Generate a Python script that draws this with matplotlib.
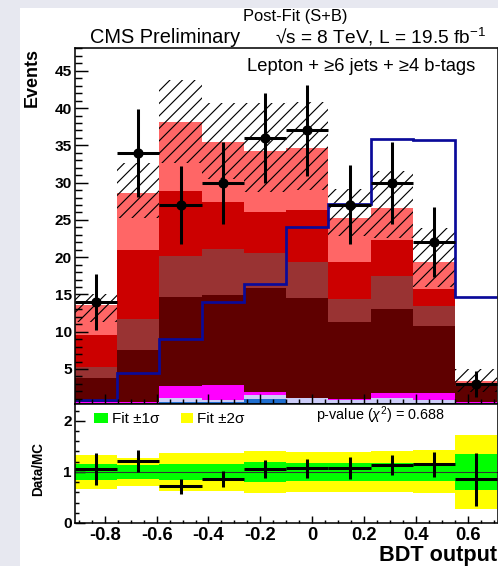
import numpy as np
import matplotlib
matplotlib.use('Agg')
import matplotlib.pyplot as plt
from matplotlib.patches import Rectangle
from matplotlib.ticker import MultipleLocator

plt.rcParams['font.family'] = ['Liberation Sans', 'DejaVu Sans']
plt.rcParams['mathtext.fontset'] = 'custom'
plt.rcParams['mathtext.rm'] = 'Liberation Sans'
plt.rcParams['mathtext.it'] = 'Liberation Sans:italic'
plt.rcParams['axes.unicode_minus'] = False
plt.rcParams['hatch.linewidth'] = 0.55

# BDT output binning
x_lo, x_hi, n_bins = -0.915, 0.715, 10

# stacked backgrounds (bottom -> top), events per bin
ttv        = [0.2, 0.2, 0.6, 0.6, 0.95, 0.4, 0.4, 0.4, 0.4, 0.2]
ewk        = [0.3, 0.3, 0.45, 0.3, 0.55, 0.65, 0.45, 0.65, 0.5, 0.2]
single_top = [0.1, 0.1, 1.7, 1.95, 0.35, 0.1, 0.1, 0.75, 0.9, 0.2]
tt_bb      = [3.2, 6.9, 11.95, 12.05, 13.95, 13.35, 10.35, 11.3, 8.9, 2.1]
tt_b       = [1.4, 4.2, 5.5, 6.2, 4.7, 4.8, 3.1, 4.4, 2.7, 0.2]
tt_cc      = [4.3, 9.3, 8.7, 6.3, 5.6, 7.0, 4.9, 4.8, 2.3, 0.2]
tt_lf      = [4.1, 7.6, 9.2, 8.1, 8.1, 8.4, 6.0, 4.3, 3.7, 0.3]
stack = [ttv, ewk, single_top, tt_bb, tt_b, tt_cc, tt_lf]
stack_colors = ['#1f6ecf', '#ccccf8', '#ff00ff', '#5f0000', '#993333', '#cc0000', '#ff6666']

# total uncertainty band
unc_lo = [11.3, 25.3, 32.6, 30.5, 28.8, 29.0, 22.8, 22.6, 16.0, 1.9]
unc_hi = [15.0, 32.6, 43.7, 40.7, 40.7, 40.8, 29.2, 31.5, 23.9, 5.0]

# signal (scaled)
signal = [0.8, 4.5, 9.0, 14.0, 16.4, 24.1, 27.1, 35.8, 35.7, 14.7]

# data
data = [14, 34, 27, 30, 36, 37, 27, 30, 22, 3]
data_err = [3.8, 5.9, 5.2, 5.5, 6.0, 6.1, 5.3, 5.5, 4.7, 1.7]

# ratio panel
ratio = [1.06, 1.21, 0.72, 0.86, 1.06, 1.07, 1.08, 1.14, 1.15, 0.86]
ratio_err = [0.31, 0.22, 0.15, 0.16, 0.18, 0.18, 0.21, 0.20, 0.24, 0.52]
band1 = [0.15, 0.14, 0.15, 0.16, 0.20, 0.18, 0.17, 0.18, 0.18, 0.35]
band2 = [0.33, 0.28, 0.37, 0.38, 0.41, 0.39, 0.39, 0.40, 0.42, 0.72]

edges = np.linspace(x_lo, x_hi, n_bins + 1)
w = edges[1] - edges[0]
centers = edges[:-1] + w / 2

W, H = 498, 566
fig = plt.figure(figsize=(W / 150, H / 150), dpi=150)
fig.patch.set_facecolor('#e7e8f0')
fig.add_artist(Rectangle((20 / W, 0), 1, 1 - 8 / H, transform=fig.transFigure,
                         facecolor='white', edgecolor='none', zorder=-5))

ax = fig.add_axes([75 / W, 1 - 404 / H, 422.5 / W, (404 - 47.7) / H])
ax2 = fig.add_axes([75 / W, 1 - 523 / H, 422.5 / W, (523 - 404) / H])

# main panel
bottom = np.zeros(n_bins)
for vals, col in zip(stack, stack_colors):
    ax.bar(edges[:-1], vals, width=w, bottom=bottom, align='edge', color=col, linewidth=0)
    bottom += np.array(vals)

lo = np.array(unc_lo)
hi = np.array(unc_hi)
ax.bar(edges[:-1], hi - lo, width=w, bottom=lo, align='edge', fill=False,
       hatch='////', edgecolor='black', linewidth=0)
ax.stairs(signal, edges, color='#0a0a9a', linewidth=1.3, baseline=None)
ax.errorbar(centers, data, xerr=w / 2, yerr=data_err, fmt='o', color='black',
            ms=3.9, elinewidth=1.45, capsize=0)

ax.set_xlim(x_lo, x_hi)
ax.set_ylim(0.3, 48.1)
ax.set_yticks([5, 10, 15, 20, 25, 30, 35, 40, 45],
              labels=['5', '10', '15', '20', '25', '30', '35', '40', '45'],
              fontweight='bold', fontsize=7.4)
ax.yaxis.set_minor_locator(MultipleLocator(1))
ax.xaxis.set_major_locator(MultipleLocator(0.2))
ax.xaxis.set_minor_locator(MultipleLocator(0.05))
ax.tick_params(axis='x', labelbottom=False)
ax.tick_params(axis='both', which='both', direction='in', width=0.7)
ax.tick_params(axis='y', which='major', length=6.2, pad=1.5)
ax.tick_params(axis='y', which='minor', length=3.4)
ax.tick_params(axis='x', which='major', length=5)
ax.tick_params(axis='x', which='minor', length=2.4)
for s in ax.spines.values():
    s.set_linewidth(0.75)

# ratio panel
ax2.bar(edges[:-1], 2 * np.array(band2), width=w, bottom=1 - np.array(band2),
        align='edge', color='#ffff00', linewidth=0)
ax2.bar(edges[:-1], 2 * np.array(band1), width=w, bottom=1 - np.array(band1),
        align='edge', color='#00ff00', linewidth=0)
ax2.axhline(1, color='#333333', linewidth=0.5)
ax2.errorbar(centers, ratio, xerr=w / 2, yerr=ratio_err, fmt='none', ecolor='black',
             elinewidth=1.45, capsize=0)
ax2.set_xlim(x_lo, x_hi)
ax2.set_ylim(0, 2.33)
ax2.set_yticks([0, 1, 2], labels=['0', '1', '2'], fontweight='bold', fontsize=7.4)
ax2.yaxis.set_minor_locator(MultipleLocator(0.2))
xt = [-0.8, -0.6, -0.4, -0.2, 0.0, 0.2, 0.4, 0.6]
ax2.set_xticks(xt, labels=['-0.8', '-0.6', '-0.4', '-0.2', '0', '0.2', '0.4', '0.6'],
               fontweight='bold', fontsize=8.8)
ax2.xaxis.set_minor_locator(MultipleLocator(0.05))
ax2.tick_params(axis='both', which='both', direction='in', width=0.7)
ax2.tick_params(axis='y', which='major', length=4.8, pad=1.5)
ax2.tick_params(axis='y', which='minor', length=2)
ax2.tick_params(axis='x', which='major', length=3.4, pad=2)
ax2.tick_params(axis='x', which='minor', length=1.6)
for s in ax2.spines.values():
    s.set_linewidth(0.75)

# labels
fig.text(243 / W, 1 - 20.5 / H, 'Post-Fit (S+B)', fontsize=7.9, va='baseline')
fig.text(90 / W, 1 - 43.3 / H, 'CMS Preliminary', fontsize=9.6, va='baseline')
fig.text(275 / W, 1 - 43.3 / H, '√s = 8 TeV, L = 19.5 fb$^{-1}$',
         fontsize=9.2, va='baseline')
fig.text(247 / W, 1 - 71 / H, 'Lepton + ≥6 jets + ≥4 b-tags', fontsize=8.8, va='baseline')
fig.text(32.5 / W, 1 - 48 / H, 'Events', rotation=90, ha='center', va='top',
         fontsize=8.6, fontweight='bold')
fig.text(38 / W, 1 - 469 / H, 'Data/MC', rotation=90, ha='center', va='center',
         fontsize=6.5, fontweight='bold')
fig.text(497 / W, 1 - 560.5 / H, 'BDT output', ha='right', va='baseline',
         fontsize=10.4, fontweight='bold')

# ratio legend
fig.add_artist(Rectangle((94 / W, 1 - 423 / H), 14 / W, 10 / H, transform=fig.transFigure,
                         facecolor='#00ff00', edgecolor='none', zorder=5))
fig.text(112 / W, 1 - 423 / H, 'Fit ±1σ', fontsize=7.3, va='baseline')
fig.add_artist(Rectangle((181 / W, 1 - 423 / H), 12 / W, 10 / H, transform=fig.transFigure,
                         facecolor='#ffff00', edgecolor='none', zorder=5))
fig.text(197 / W, 1 - 423 / H, 'Fit ±2σ', fontsize=7.3, va='baseline')
fig.text(316 / W, 1 - 420 / H, r'p-value ($\chi^{2}$) = 0.688', fontsize=6.9, va='baseline')

fig.savefig('out.png', dpi=150, facecolor=fig.get_facecolor())
